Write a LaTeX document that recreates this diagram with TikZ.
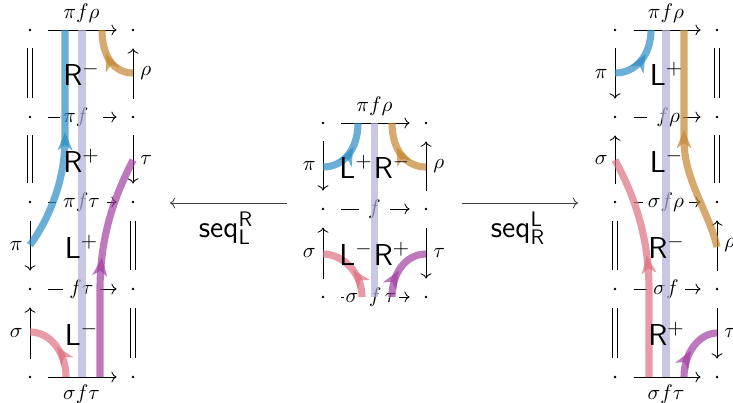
\documentclass[tikz,border=0pt]{standalone}
\usetikzlibrary{arrows.meta,decorations.markings}
\definecolor{cblue}{RGB}{44,139,196}
\definecolor{corange}{RGB}{196,134,48}
\definecolor{cpink}{RGB}{222,112,126}
\definecolor{cpurple}{RGB}{162,62,162}
\definecolor{clav}{RGB}{176,176,217}
\tikzset{
  dot/.style={circle, fill=black, inner sep=0pt, minimum size=1.4pt},
  harr/.style={->, shorten <=7.9pt, shorten >=6.9pt},
  varr/.style={->, shorten <=7.9pt, shorten >=7.9pt},
  eqedge/.style={double, double distance=1.6pt, shorten <=7.9pt, shorten >=8.1pt},
  strand/.style={line width=3.4pt, opacity=0.7},
  mlab/.style={fill=white, inner xsep=3.3pt, inner ysep=1pt},
  cellname/.style={font=\Large\sffamily, anchor=base, inner sep=0pt},
  arrowat/.style={postaction={decorate}, decoration={markings, mark=at position #1 with {\arrow{Stealth[length=8.5pt,width=7pt,inset=2.5pt,line width=0.01pt]}}}},
}
\begin{document}
\begin{tikzpicture}[x=0.476pt, y=-0.476pt]
\useasboundingbox (0,0) rectangle (733,402);

% ---------- left diagram ----------
\foreach \i/\y in {0/30,1/117,2/202,3/289,4/377}{
  \node[dot] (a\i) at (30,\y) {};
  \node[dot] (b\i) at (133,\y) {};
}
\draw[harr] (a0) -- node[above] (la0) {$\pi f\rho$} (b0);
\draw[harr] (a1) -- node[mlab, inner xsep=1.5pt] (la1) {$\pi f$\kern5.5pt} (b1);
\draw[harr] (a2) -- node[mlab, inner xsep=3.6pt] (la2) {$\pi f\tau$} (b2);
\draw[harr] (a3) -- node[mlab] (la3) {$f\tau$} (b3);
\draw[harr] (a4) -- node[below] (la4) {$\sigma f\tau$} (b4);
\draw[eqedge] (a0) -- (a1);
\draw[varr] (b1) -- node[right] (lr1) {$\rho$} (b0);
\draw[eqedge] (a1) -- (a2);
\draw[varr] (b1) -- node[right] (lr2) {$\tau$} (b2);
\draw[varr] (a2) -- node[left] (ll3) {$\pi$} (a3);
\draw[eqedge] (b2) -- (b3);
\draw[varr] (a4) -- node[left] (ll4) {$\sigma$} (a3);
\draw[eqedge] (b3) -- (b4);

% ---------- middle diagram ----------
\foreach \i/\y in {0/123,1/209,2/297}{
  \node[dot] (c\i) at (323,\y) {};
  \node[dot] (d\i) at (426,\y) {};
}
\draw[harr] (c0) -- node[above] (mc0) {$\pi f\rho$} (d0);
\draw[harr] (c1) -- node[mlab, inner xsep=4.3pt] (mc1) {$f$} (d1);
\draw[harr] (c2) -- node[mlab, pos=0.466, inner xsep=1pt] (mc2) {$\sigma\mkern9mu f\mkern3mu\tau$} (d2);
\draw[varr] (c0) -- node[left] (ml1) {$\pi$} (c1);
\draw[varr] (d1) -- node[right] (mr1) {$\rho$} (d0);
\draw[varr] (c2) -- node[left] (ml2) {$\sigma$} (c1);
\draw[varr] (d1) -- node[right] (mr2) {$\tau$} (d2);

% ---------- right diagram ----------
\foreach \i/\y in {0/30,1/117,2/202,3/289,4/377}{
  \node[dot] (e\i) at (615,\y) {};
  \node[dot] (f\i) at (717,\y) {};
}
\draw[harr] (e0) -- node[above] (re0) {$\pi f\rho$} (f0);
\draw[harr] (e1) -- node[mlab, pos=0.49, inner xsep=1.5pt] (re1) {\kern3pt$f\rho$} (f1);
\draw[harr] (e2) -- node[mlab, inner xsep=2.5pt] (re2) {$\sigma f\rho$} (f2);
\draw[harr] (e3) -- node[mlab, inner xsep=3pt] (re3) {$\sigma f$} (f3);
\draw[harr] (e4) -- node[below] (re4) {$\sigma f\tau$} (f4);
\draw[varr] (e0) -- node[left] (rl1) {$\pi$} (e1);
\draw[eqedge] (f0) -- (f1);
\draw[varr] (e2) -- node[left] (rl2) {$\sigma$} (e1);
\draw[eqedge] (f1) -- (f2);
\draw[eqedge] (e2) -- (e3);
\draw[varr] (f3) -- node[right] (rr3) {$\rho$} (f2);
\draw[eqedge] (e3) -- (e4);
\draw[varr] (f3) -- node[right] (rr4) {$\tau$} (f4);

% ---------- transition arrows ----------
\coordinate (sl1) at (287,203);
\coordinate (sl2) at (170,203);
\coordinate (sr1) at (462,203);
\coordinate (sr2) at (578,203);
\draw[->, black!75] (sl1) -- (sl2);
\draw[->, black!75] (sr1) -- (sr2);
\node[font=\Large\sffamily, anchor=base] (seqL) at (226,237) {seq$^{\mathsf{R}}_{\mathsf{L}}$};
\node[font=\Large\sffamily, anchor=base] (seqR) at (518,237) {seq$^{\mathsf{L}}_{\mathsf{R}}$};

% ---------- strands: left ----------
\draw[strand, clav] (82,30) -- (82,377);
\draw[strand, cblue, arrowat=0.54] (30,245) .. controls (45,225) and (65,185) .. (65,140) -- (65,30);
\draw[strand, cpurple, arrowat=0.535] (100,377) -- (100,290) .. controls (100,230) and (118,190) .. (133,160);
\draw[strand, corange, arrowat=0.6] (133,73) .. controls (113,73) and (102,55) .. (102,30);
\draw[strand, cpink, arrowat=0.5] (66,377) .. controls (66,352) and (50,332) .. (30,332);

% ---------- strands: middle ----------
\draw[strand, clav] (374.5,123) -- (374.5,297);
\draw[strand, cblue, arrowat=0.6] (323,167) .. controls (343,167) and (358,150) .. (358,123);
\draw[strand, corange, arrowat=0.6] (426,167) .. controls (406,167) and (392,150) .. (392,123);
\draw[strand, cpink, arrowat=0.45] (362,297) .. controls (362,273) and (343,254) .. (323,254);
\draw[strand, cpurple, arrowat=0.45] (392,297) .. controls (392,273) and (406,254) .. (426,254);

% ---------- strands: right ----------
\draw[strand, clav] (666,30) -- (666,377);
\draw[strand, cblue, arrowat=0.6] (615,73) .. controls (636,73) and (651,55) .. (651,30);
\draw[strand, corange, arrowat=0.55] (717,247) .. controls (709,212) and (684,180) .. (684,140) -- (684,30);
\draw[strand, cpink, arrowat=0.545] (649,377) -- (649,290) .. controls (649,230) and (630,188) .. (615,160);
\draw[strand, cpurple, arrowat=0.45] (684,377) .. controls (684,352) and (700,333) .. (717,333);

% ---------- cell names ----------
\node[cellname] (nl1) at (81.5,85) {R$^-$};
\node[cellname] (nl2) at (81.5,172) {R$^+$};
\node[cellname] (nl3) at (81.5,258) {L$^+$};
\node[cellname] (nl4) at (81.5,345) {L$^-$};
\node[cellname] (nm1) at (356,178) {L$^+$};
\node[cellname] (nm2) at (392,178) {R$^-$};
\node[cellname] (nm3) at (356,265) {L$^-$};
\node[cellname] (nm4) at (392,265) {R$^+$};
\node[cellname] (nr1) at (666.5,85) {L$^+$};
\node[cellname] (nr2) at (666.5,172) {L$^-$};
\node[cellname] (nr3) at (666.5,258) {R$^-$};
\node[cellname] (nr4) at (666.5,345) {R$^+$};
\end{tikzpicture}
\end{document}
